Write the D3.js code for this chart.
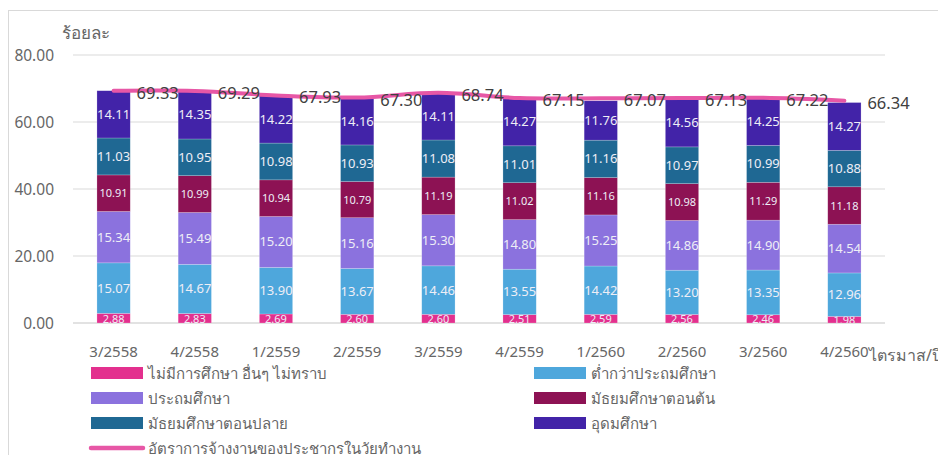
<!DOCTYPE html>
<html>
<head>
<meta charset="utf-8">
<script src="https://cdn.jsdelivr.net/npm/d3@7"></script>
<style>
  body { margin: 0; background: #fff; }
  svg { font-family: "Noto Sans", "DejaVu Sans", sans-serif; }
</style>
</head>
<body>
<div id="chart"></div>
<script>
// Set dimensions
var w = 938;
var h = 455;
var margin = {top: 55, right: 53, bottom: 132, left: 73};

var quarters = ["3/2558", "4/2558", "1/2559", "2/2559", "3/2559", "4/2559", "1/2560", "2/2560", "3/2560", "4/2560"];
var noEdu = [2.88, 2.83, 2.69, 2.60, 2.60, 2.51, 2.59, 2.56, 2.46, 1.98];
var belowPrimary = [15.07, 14.67, 13.90, 13.67, 14.46, 13.55, 14.42, 13.20, 13.35, 12.96];
var primary = [15.34, 15.49, 15.20, 15.16, 15.30, 14.80, 15.25, 14.86, 14.90, 14.54];
var lowerSec = [10.91, 10.99, 10.94, 10.79, 11.19, 11.02, 11.16, 10.98, 11.29, 11.18];
var upperSec = [11.03, 10.95, 10.98, 10.93, 11.08, 11.01, 11.16, 10.97, 10.99, 10.88];
var tertiary = [14.11, 14.35, 14.22, 14.16, 14.11, 14.27, 11.76, 14.56, 14.25, 14.27];
var employRate = [69.33, 69.29, 67.93, 67.30, 68.74, 67.15, 67.07, 67.13, 67.22, 66.34];
var yTicks = [0, 20, 40, 60, 80];

var keys = ["noEdu", "belowPrimary", "primary", "lowerSec", "upperSec", "tertiary"];
var names = {
    noEdu: "ไม่มีการศึกษา อื่นๆ  ไม่ทราบ",
    belowPrimary: "ต่ำกว่าประถมศึกษา",
    primary: "ประถมศึกษา",
    lowerSec: "มัธยมศึกษาตอนต้น",
    upperSec: "มัธยมศึกษาตอนปลาย",
    tertiary: "อุดมศึกษา"
};
var lineName = "อัตราการจ้างงานของประชากรในวัยทำงาน";

var dataset = quarters.map(function(q, i) {
    return {
        q: q, noEdu: noEdu[i], belowPrimary: belowPrimary[i], primary: primary[i],
        lowerSec: lowerSec[i], upperSec: upperSec[i], tertiary: tertiary[i], rate: employRate[i]
    };
});

var series = d3.stack().keys(keys)(dataset);

var color = d3.scaleOrdinal()
    .domain(keys)
    .range(["#e3308e", "#4ea7dc", "#8b72de", "#8d1254", "#1f6893", "#4223a8"]);
var lineColor = "#e757a6";

var xScale = d3.scaleBand()
    .domain(quarters)
    .range([margin.left, w - margin.right])
    .paddingInner(0.59)
    .paddingOuter(0.295);

var yScale = d3.scaleLinear()
    .domain([0, 80])
    .range([h - margin.bottom, margin.top]);

var svg = d3.select("#chart")
    .append("svg")
    .attr("width", w)
    .attr("height", h);

// outer frame
svg.append("rect")
    .attr("x", 8.5).attr("y", 10.5)
    .attr("width", w + 20).attr("height", h + 20)
    .attr("fill", "none")
    .attr("stroke", "#d9d9d9");

svg.append("defs").append("clipPath").attr("id", "plot")
    .append("rect")
    .attr("x", 0).attr("y", 0)
    .attr("width", w).attr("height", yScale(0));

// gridlines
svg.append("g")
    .selectAll("line")
    .data(yTicks)
    .enter()
    .append("line")
    .attr("x1", margin.left)
    .attr("x2", w - margin.right)
    .attr("y1", function(d) { return yScale(d); })
    .attr("y2", function(d) { return yScale(d); })
    .attr("stroke", "#d9d9d9")
    .attr("stroke-width", function(d) { return d === 0 ? 1.5 : 1.2; });

// y labels
svg.append("g")
    .selectAll("text")
    .data(yTicks)
    .enter()
    .append("text")
    .attr("x", 54)
    .attr("y", function(d) { return yScale(d) + 5.5; })
    .attr("text-anchor", "end")
    .attr("fill", "#666")
    .style("font-size", "15.5px")
    .text(function(d) { return d.toFixed(2); });

svg.append("text")
    .attr("x", 62).attr("y", 39)
    .attr("fill", "#666")
    .style("font-size", "17px")
    .text("ร้อยละ");

// bars
var groups = svg.append("g").attr("clip-path", "url(#plot)")
    .selectAll("g.bars")
    .data(series)
    .enter()
    .append("g")
    .classed("bars", true)
    .style("fill", function(d) { return color(d.key); });

groups.selectAll("rect")
    .data(function(d) { return d; })
    .enter()
    .append("rect")
    .attr("x", function(d) { return xScale(d.data.q); })
    .attr("y", function(d) { return yScale(d[1]); })
    .attr("height", function(d) { return yScale(d[0]) - yScale(d[1]); })
    .attr("width", xScale.bandwidth())
    .attr("stroke", "rgba(255,255,255,0.35)")
    .attr("stroke-width", 0.6);

// bar value labels
groups.each(function(s) {
    d3.select(this).selectAll("text")
        .data(s)
        .enter()
        .append("text")
        .attr("x", function(d) { return xScale(d.data.q) + xScale.bandwidth() / 2; })
        .attr("y", function(d) { return (yScale(d[0]) + yScale(d[1])) / 2 + (s.key === "lowerSec" ? 4 : 4.5); })
        .attr("text-anchor", "middle")
        .attr("fill", "#eeeef6")
        .style("font-size", s.key === "lowerSec" || s.key === "noEdu" ? "11px" : "13px")
        .text(function(d) { return d.data[s.key].toFixed(2); });
});

// employment rate line
var line = d3.line()
    .x(function(d) { return xScale(d.q) + xScale.bandwidth() / 2; })
    .y(function(d) { return yScale(d.rate); })
    .curve(d3.curveCatmullRom);

svg.append("path")
    .datum(dataset)
    .attr("d", line)
    .attr("fill", "none")
    .attr("stroke", lineColor)
    .attr("stroke-width", 4)
    .attr("stroke-linecap", "round");

svg.append("g")
    .selectAll("text")
    .data(dataset)
    .enter()
    .append("text")
    .attr("x", function(d) { return xScale(d.q) + xScale.bandwidth() / 2 + 23; })
    .attr("y", function(d) { return yScale(d.rate) + 8; })
    .attr("fill", "#404040")
    .style("font-size", "16.5px")
    .text(function(d) { return d.rate.toFixed(2); });

// x labels
svg.append("g")
    .selectAll("text")
    .data(quarters)
    .enter()
    .append("text")
    .attr("x", function(d) { return xScale(d) + xScale.bandwidth() / 2; })
    .attr("y", 357)
    .attr("text-anchor", "middle")
    .attr("fill", "#666")
    .style("font-size", "15px")
    .text(function(d) { return d; });

svg.append("text")
    .attr("x", 869).attr("y", 361)
    .attr("fill", "#666")
    .style("font-size", "16px")
    .text("ไตรมาส/ปี");

// legend
var legendData = keys.map(function(k, i) {
    return {key: k, col: i % 2, row: Math.floor(i / 2)};
});
legendData.push({key: "rate", col: 0, row: 3});

var legendItems = svg.append("g")
    .selectAll(".legend-item")
    .data(legendData)
    .enter()
    .append("g")
    .attr("class", "legend-item")
    .attr("transform", function(d) {
        return "translate(" + (d.col === 0 ? 91 : 534) + "," + (373 + d.row * 25) + ")";
    });

legendItems.filter(function(d) { return d.key !== "rate"; })
    .append("rect")
    .attr("y", -6)
    .attr("width", 52)
    .attr("height", 12)
    .style("fill", function(d) { return color(d.key); });

legendItems.filter(function(d) { return d.key === "rate"; })
    .append("line")
    .attr("x1", 0).attr("x2", 52)
    .attr("y1", 0).attr("y2", 0)
    .attr("stroke", lineColor)
    .attr("stroke-width", 4.5)
    .attr("stroke-linecap", "round");

legendItems.append("text")
    .attr("x", 57)
    .attr("y", 6)
    .attr("fill", "#666")
    .style("font-size", "15px")
    .text(function(d) { return d.key === "rate" ? lineName : names[d.key]; });
</script>
</body>
</html>
